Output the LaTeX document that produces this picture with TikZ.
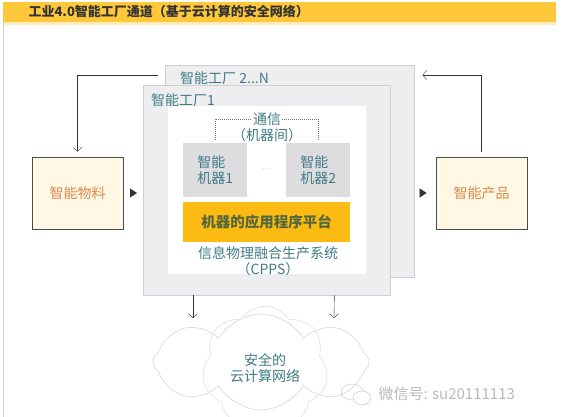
\documentclass[tikz,border=0pt]{standalone}
\usepackage{fontspec}
\usepackage{xcolor}
\usepackage{tikz}
\usetikzlibrary{positioning,calc,arrows.meta,shapes.symbols}
\newfontfamily\cjk{Noto Sans CJK SC}
\definecolor{barcol}{HTML}{FFC83A}
\definecolor{platcol}{HTML}{FBBB12}
\definecolor{factgray}{HTML}{EEEEF0}
\definecolor{framegray}{HTML}{CFCFD2}
\definecolor{machgray}{HTML}{DDDDDF}
\definecolor{boxcream}{HTML}{FFF8E4}
\definecolor{tealtxt}{HTML}{3F7C84}
\definecolor{olivetxt}{HTML}{55663E}
\definecolor{orangetxt}{HTML}{E0894E}

\begin{document}
\begin{tikzpicture}[x=1pt,y=-1pt,
	every node/.style={font=\cjk\fontsize{14}{16.5}\selectfont},
	factory/.style={draw=framegray,fill=factgray,anchor=north west,inner sep=0pt},
	machine/.style={fill=machgray,anchor=north west,inner sep=0pt,minimum width=64pt,minimum height=54pt,text=tealtxt,align=left},
	sidebox/.style={draw=black!70,fill=boxcream,thick,minimum width=91pt,minimum height=72pt,text=orangetxt},
	lbl/.style={text=tealtxt,inner sep=1pt},
	flow/.style={black!80,-{Straight Barb[length=4pt,width=9pt]}},
	tri/.style={black!80,-{Triangle[length=7pt,width=9pt]}}]
		\useasboundingbox (0,0) rectangle (583,417);
		% title bar and panel
		\fill[barcol] (3,2) rectangle (556,22);
		\fill[barcol!35] (3,22) rectangle (556,25);
		\draw[black!18] (3,22) -- (3,417);
		\node[anchor=west,text=black!80,font=\cjk\bfseries\fontsize{13}{15}\selectfont] (title) at (25,12) {工业4.0智能工厂通道（基于云计算的安全网络）};
		% factories
		\node[factory,minimum width=249pt,minimum height=212pt] (factN) at (165,65) {};
		\node[lbl,anchor=west] (factNlbl) at ([xshift=14pt,yshift=-13pt]factN.north west) {智能工厂 2...N};
		\node[factory,minimum width=247pt,minimum height=210pt] (fact1) at (143,85) {};
		\node[lbl,anchor=west] (fact1lbl) at ([xshift=7pt,yshift=-15pt]fact1.north west) {智能工厂1};
		\node[fill=white,anchor=north west,inner sep=0pt,minimum width=198pt,minimum height=168pt] (cpsbox) at (168,106) {};
		% machines
		\node[machine] (m1) at (183,143) {智能\\机器1};
		\node[machine] (m2) at (286,143) {智能\\机器2};
		\node[text=black!50,font=\fontsize{7}{8}\selectfont] (dots) at (267,169) {$\cdots$};
		\node[lbl] (comm) at (267,119) {通信};
		\node[lbl] (commsub) at (267,135) {（机器间）};
		\draw[black!55,dash pattern=on 1pt off 1pt] ([yshift=3pt]m1.north) |- (comm.west);
		\draw[black!55,dash pattern=on 1pt off 1pt] ([yshift=3pt]m2.north) |- (comm.east);
		\node[fill=platcol,anchor=north west,minimum width=167pt,minimum height=40pt,text=olivetxt,font=\cjk\bfseries\fontsize{14.5}{16}\selectfont] (plat) at (183,202) {机器的应用程序平台};
		\node[lbl,align=center] (cpps) at (268,261) {信息物理融合生产系统\\（CPPS）};
		% side boxes
		\node[sidebox] (mat) at (77.5,193) {智能物料};
		\node[sidebox] (prod) at (481.5,193) {智能产品};
		\draw[tri,shorten <=7pt,shorten >=6pt] (mat.east) -- (mat.east -| fact1.west);
		\draw[tri,shorten <=7pt,shorten >=9pt] (factN.east |- prod.west) -- (prod.west);
		\draw[flow,shorten <=5pt] (prod.north) |- ([xshift=8pt,yshift=-10pt]factN.north east);
		\draw[flow,shorten >=5pt] ([xshift=-7pt,yshift=-10pt]factN.north west) -| (mat.north);
		% cloud
		\node[cloud,cloud puffs=8,cloud puff arc=120,draw=black!13,fill=white,thick,minimum width=216pt,minimum height=96pt] (net) at (261,362) {};
		\node[cloud,cloud puffs=7,cloud puff arc=115,draw=black!10,thick,minimum width=126pt,minimum height=66pt,text=tealtxt,align=center] (netin) at (265,368) {安全的\\云计算网络};
		\coordinate (c1) at (193,318);
		\coordinate (c2) at (334,318);
		\draw[flow] ([xshift=50pt]fact1.south west) -- (c1);
		\draw[flow] ([xshift=-56pt]fact1.south east) -- (c2);
		% watermark
		\draw[black!25] (352,392) ellipse (11pt and 8pt);
		\draw[black!25,fill=white] (362,398) ellipse (9pt and 7pt);
		\node[anchor=west,text=black!28,font=\cjk\fontsize{15}{17}\selectfont] (wm) at (375,394) {微信号: su20111113};
	\end{tikzpicture}
\end{document}
